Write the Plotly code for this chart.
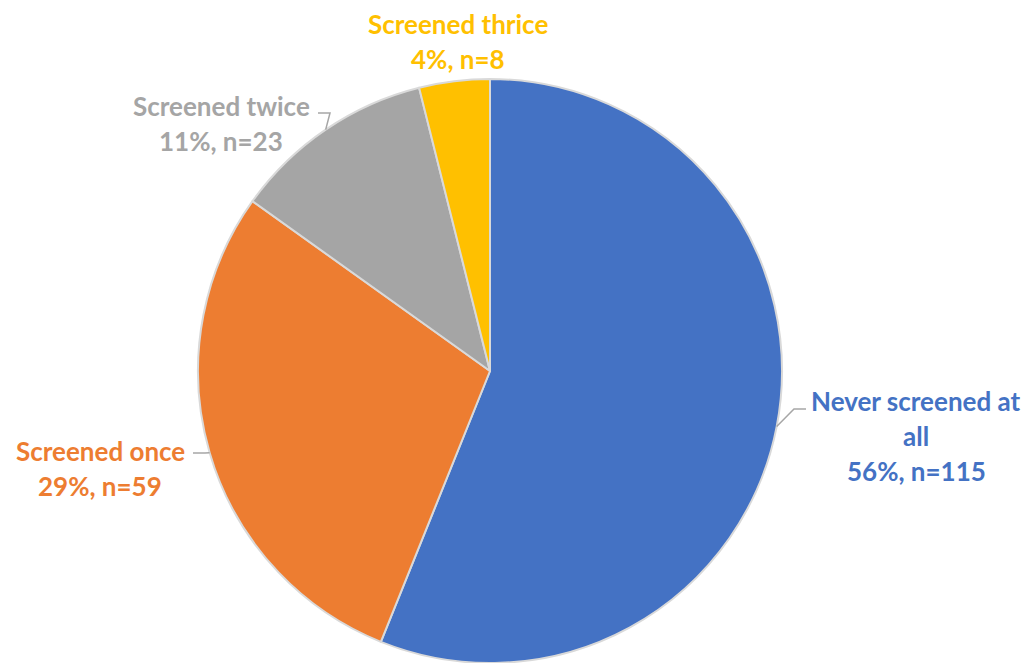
import math
import plotly.graph_objects as go

# ---- data ----
categories = ["Never screened at all", "Screened once", "Screened twice", "Screened thrice"]
counts = [115, 59, 23, 8]
percent_labels = ["56%", "29%", "11%", "4%"]
colors = ["#4472C4", "#ED7D31", "#A5A5A5", "#FFC000"]

# label layout (pixel positions of label lines, top-left origin)
label_lines = [
    ["Never screened at", "all", f"{percent_labels[0]}, n={counts[0]}"],
    ["Screened once", f"{percent_labels[1]}, n={counts[1]}"],
    ["Screened twice", f"{percent_labels[2]}, n={counts[2]}"],
    ["Screened thrice", f"{percent_labels[3]}, n={counts[3]}"],
]
label_center_x = [916, 100, 221, 458]
label_first_y = [401, 451, 106, 24]
line_gap = 35
# leader elbow points (start of leader line next to the label), None = no leader
leader_start = [(806, 409), (193, 453), (318, 113), None]

W, H = 1030, 663
CX, CY, R = 490, 371, 292

fig = go.Figure()
fig.add_trace(go.Pie(
    labels=categories,
    values=counts,
    sort=False,
    direction="clockwise",
    rotation=0,
    marker=dict(colors=colors, line=dict(color="#D9D9D9", width=2)),
    textinfo="none",
    hoverinfo="label+value+percent",
    domain=dict(x=[(CX - R) / W, (CX + R) / W], y=[max(0, (H - CY - R) / H), (H - CY + R) / H]),
    showlegend=False,
))

def px(x):
    return x / W

def py(y):
    return 1 - y / H

total = sum(counts)
cum = 0
for i, c in enumerate(counts):
    mid = (cum + c / 2) / total * 2 * math.pi
    cum += c
    ax = CX + R * math.sin(mid)
    ay = CY - R * math.cos(mid)
    for j, t in enumerate(label_lines[i]):
        fig.add_annotation(
            x=px(label_center_x[i]), y=py(label_first_y[i] + j * line_gap),
            xref="paper", yref="paper", xanchor="center", yanchor="middle",
            text=f"<b>{t}</b>", showarrow=False,
            font=dict(family="Lato, Open Sans, sans-serif", size=26, color=colors[i]),
        )
    if leader_start[i] is not None:
        sx, sy = leader_start[i]
        hx = sx - 12 if ax > CX else sx + 12
        fig.add_shape(type="path", xref="paper", yref="paper",
                      path=f"M {px(sx)} {py(sy)} L {px(hx)} {py(sy)} L {px(ax)} {py(ay)}",
                      line=dict(color="#A6A6A6", width=1.5))

fig.update_layout(
    width=W, height=H,
    margin=dict(l=0, r=0, t=0, b=0),
    paper_bgcolor="white",
    plot_bgcolor="white",
)

fig.write_html("out.html")
